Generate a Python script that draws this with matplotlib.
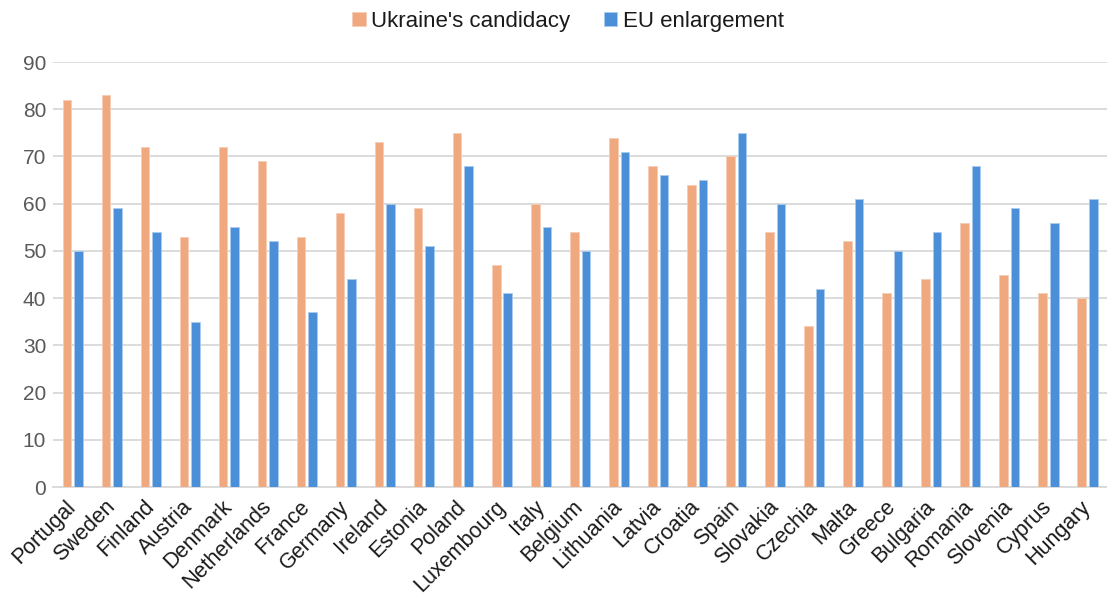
import matplotlib
matplotlib.use("Agg")
import matplotlib.pyplot as plt
import numpy as np

plt.rcParams['font.family'] = ['Liberation Sans', 'DejaVu Sans']

countries = ["Portugal", "Sweden", "Finland", "Austria", "Denmark", "Netherlands",
             "France", "Germany", "Ireland", "Estonia", "Poland", "Luxembourg",
             "Italy", "Belgium", "Lithuania", "Latvia", "Croatia", "Spain",
             "Slovakia", "Czechia", "Malta", "Greece", "Bulgaria", "Romania",
             "Slovenia", "Cyprus", "Hungary"]
ukraine_candidacy = [82, 83, 72, 53, 72, 69, 53, 58, 73, 59, 75, 47, 60, 54,
                     74, 68, 64, 70, 54, 34, 52, 41, 44, 56, 45, 41, 40]
eu_enlargement = [50, 59, 54, 35, 55, 52, 37, 44, 60, 51, 68, 41, 55, 50,
                  71, 66, 65, 75, 60, 42, 61, 50, 54, 68, 59, 56, 61]
yticks = list(range(0, 91, 10))

orange = "#F0A97F"
blue = "#4A8FD7"
grid_col = "#D9D9D9"
text_col = "#595959"

fig = plt.figure(figsize=(11.07, 6.05), dpi=100)
ax = fig.add_axes([0.048, 0.195, 0.952, 0.7025])

x = np.arange(len(countries))
w = 0.22
off = 0.148
ax.bar(x - off, ukraine_candidacy, width=w, color=orange, edgecolor="#F6CDB5",
       linewidth=0.6, label="Ukraine's candidacy", zorder=3)
ax.bar(x + off, eu_enlargement, width=w, color=blue, edgecolor="#A9CBEE",
       linewidth=0.6, label="EU enlargement", zorder=3)

ax.set_xlim(-0.5, len(countries) - 0.5)
ax.set_ylim(0, 90)
ax.set_yticks(yticks)
ax.yaxis.grid(True, color=grid_col, linewidth=1.3, zorder=0)
ax.set_axisbelow(True)
for s in ["top", "right", "left"]:
    ax.spines[s].set_visible(False)
ax.spines["bottom"].set_color(grid_col)
ax.spines["bottom"].set_linewidth(1.3)

ax.tick_params(axis="y", length=0, pad=5, labelsize=15, labelcolor=text_col)
ax.tick_params(axis="x", length=0, pad=12)
ax.set_xticks(x)
ax.set_xticklabels(countries, rotation=45, ha="right", va="center",
                   rotation_mode="anchor", fontsize=15.5, color="#1a1a1a")

leg = fig.legend(loc="upper center", bbox_to_anchor=(0.513, 1.015), ncol=2,
                 frameon=False, fontsize=16, handlelength=0.6, handleheight=0.6,
                 handletextpad=0.25, columnspacing=1.5)
for t in leg.get_texts():
    t.set_color("#1a1a1a")

fig.savefig("out.png", dpi=100)
